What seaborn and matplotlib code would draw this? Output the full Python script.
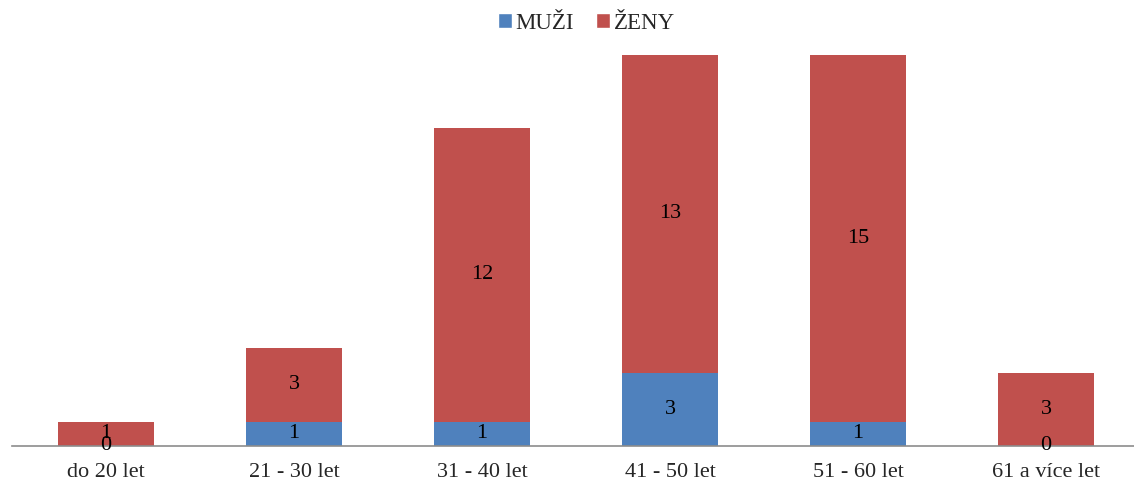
import matplotlib
matplotlib.use("Agg")
import matplotlib.pyplot as plt
import seaborn as sns
import pandas as pd
import numpy as np
from matplotlib.patches import Patch

categories = ["do 20 let", "21 - 30 let", "31 - 40 let", "41 - 50 let", "51 - 60 let", "61 a více let"]
muzi = [0, 1, 1, 3, 1, 0]
zeny = [1, 3, 12, 13, 15, 3]
series_names = ["MUŽI", "ŽENY"]

BLUE = "#4F81BD"
RED = "#C0504D"

sns.set_theme(style="white")
plt.rcParams["font.family"] = ["Liberation Serif", "DejaVu Serif"]

fig = plt.figure(figsize=(11.34, 4.93), dpi=100)
ax = fig.add_axes([12 / 1134, 47 / 493, 1128 / 1134, (446 - 55) / 493])

totals = [m + z for m, z in zip(muzi, zeny)]
df_tot = pd.DataFrame({"cat": categories, "val": totals})
df_m = pd.DataFrame({"cat": categories, "val": muzi})

sns.barplot(data=df_tot, x="cat", y="val", color=RED, saturation=1, width=0.51, ax=ax, linewidth=0)
sns.barplot(data=df_m, x="cat", y="val", color=BLUE, saturation=1, width=0.51, ax=ax, linewidth=0)

for i, (m, z) in enumerate(zip(muzi, zeny)):
    ax.text(i, m / 2, str(m), ha="center", va="center", fontsize=16, color="black")
    ax.text(i, m + z / 2, str(z), ha="center", va="center", fontsize=16, color="black")

ax.set_ylim(0, 16)
ax.set_xlim(-0.5, 5.5)
ax.set_xlabel("")
ax.set_ylabel("")
ax.set_yticks([])
ax.tick_params(axis="x", length=0, labelsize=16, pad=12)
for s in ["top", "left", "right"]:
    ax.spines[s].set_visible(False)
ax.spines["bottom"].set_color("#8C8C8C")
ax.spines["bottom"].set_linewidth(1.2)
leg = ax.get_legend()
if leg is not None:
    leg.remove()

handles = [Patch(facecolor=BLUE, label=series_names[0]), Patch(facecolor=RED, label=series_names[1])]
fig.legend(handles=handles, loc="center", bbox_to_anchor=(0.517, 0.953), ncol=2, frameon=False,
           fontsize=16.5, handlelength=0.6, handleheight=0.6, handletextpad=0.15, columnspacing=1.0)

fig.savefig("out.png", dpi=100)
